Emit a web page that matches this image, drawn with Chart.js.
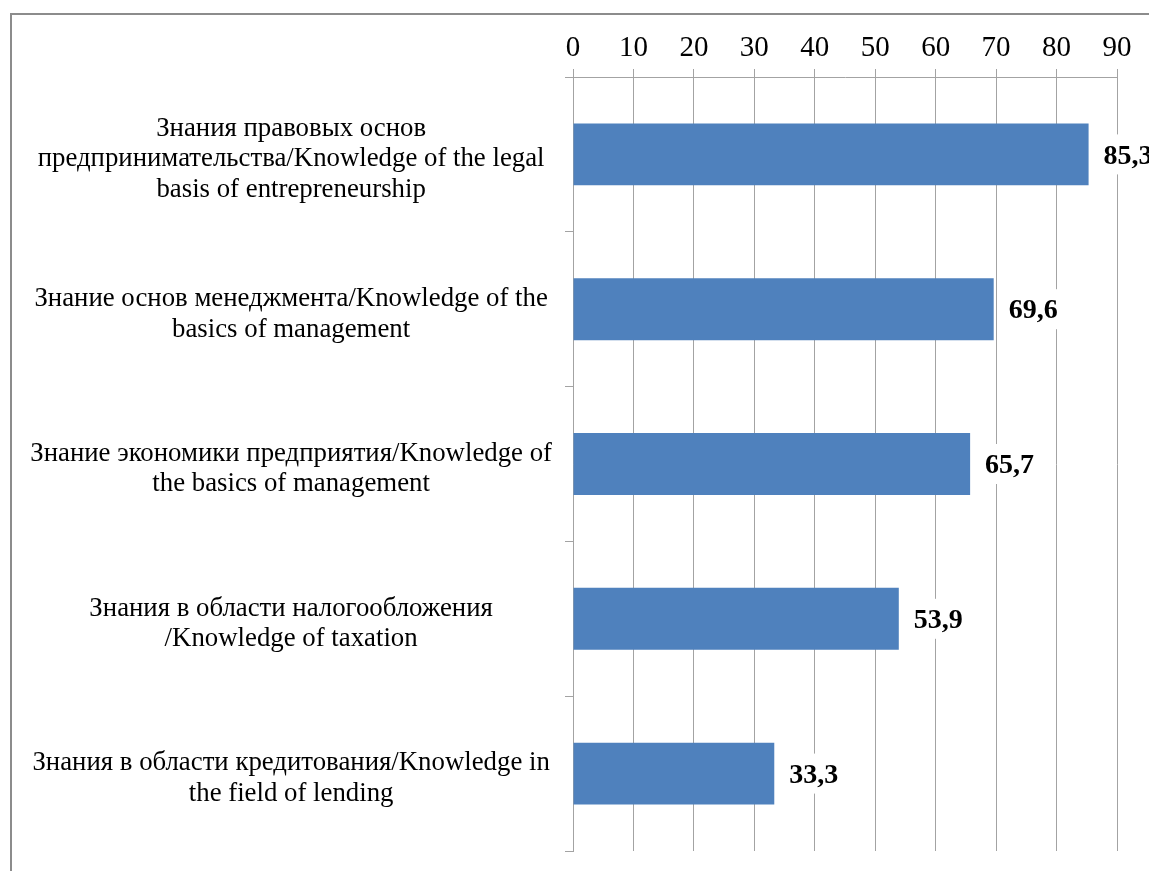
<!DOCTYPE html>
<html>
<head>
<meta charset="utf-8">
<script src="https://cdn.jsdelivr.net/npm/chart.js@4/dist/chart.umd.min.js"></script>
<style>
  html, body { margin: 0; padding: 0; background: #fff; overflow: hidden; }
  #wrap { position: relative; width: 1149px; height: 871px; overflow: hidden; }
  #frame { position: absolute; left: 10px; top: 13px; width: 1300px; height: 1000px; border: 2px solid #8c8c8c; }
  #chart { position: absolute; left: 0; top: 0; }
</style>
</head>
<body>
<div id="wrap">
  <div id="frame"></div>
  <canvas id="chart" width="1149" height="871"></canvas>
</div>
<script>
// --- data ---
const categories = [
    ['Знания правовых основ', 'предпринимательства/Knowledge of the legal', 'basis of entrepreneurship'],
    ['Знание основ менеджмента/Knowledge of the', 'basics of management'],
    ['Знание экономики предприятия/Knowledge of', 'the basics of management'],
    ['Знания в области налогообложения', '/Knowledge of taxation'],
    ['Знания в области кредитования/Knowledge in', 'the field of lending']
];
const values = [85.3, 69.6, 65.7, 53.9, 33.3];
const tickValues = [0, 10, 20, 30, 40, 50, 60, 70, 80, 90];

const gridColor = '#a3a3a3';
const serif = '"Liberation Serif", "Times New Roman", serif';

// подписи значений справа от столбцов (белая подложка перекрывает сетку)
const valueLabels = {
    id: 'valueLabels',
    afterDatasetsDraw(chart) {
        const ctx = chart.ctx;
        const meta = chart.getDatasetMeta(0);
        ctx.save();
        ctx.font = 'bold 28px ' + serif;
        ctx.textBaseline = 'middle';
        ctx.textAlign = 'left';
        meta.data.forEach((bar, i) => {
            const txt = values[i].toFixed(1).replace('.', ',');
            const w = ctx.measureText(txt).width;
            const x = bar.x + 15;
            ctx.fillStyle = '#fff';
            ctx.fillRect(x - 6, bar.y - 20, w + 12, 40);
            ctx.fillStyle = '#000';
            ctx.fillText(txt, x, bar.y + 2);
        });
        ctx.restore();
    }
};

new Chart(document.getElementById('chart'), {
    type: 'bar',
    data: {
        labels: categories,
        datasets: [{
            data: values,
            backgroundColor: '#4f81bd',
            borderWidth: 0,
            categoryPercentage: 1,
            barPercentage: 0.4
        }]
    },
    options: {
        indexAxis: 'y',
        responsive: false,
        animation: false,
        devicePixelRatio: 1,
        layout: { padding: { left: 0, top: 0, right: 32, bottom: 20 } },
        plugins: { legend: { display: false }, tooltip: { enabled: false } },
        scales: {
            x: {
                position: 'top',
                min: 0,
                max: 90,
                afterBuildTicks: (scale) => { scale.ticks = tickValues.map(v => ({ value: v })); },
                afterFit: (scale) => {
                    scale.height = 77;
                    scale.paddingLeft = 0;
                    scale.paddingRight = 0;
                },
                ticks: {
                    color: '#000',
                    padding: 3,
                    font: { family: serif, size: 29 }
                },
                grid: { color: gridColor, lineWidth: 1, tickLength: 8 },
                border: { color: gridColor, width: 1 }
            },
            y: {
                afterFit: (scale) => {
                    scale.width = 573;
                    scale.paddingTop = 0;
                    scale.paddingBottom = 0;
                },
                ticks: {
                    color: '#000',
                    padding: 13,
                    labelOffset: 5,
                    crossAlign: 'center',
                    autoSkip: false,
                    font: { family: serif, size: 26.8, lineHeight: 1.14 }
                },
                grid: { color: gridColor, lineWidth: 1, tickLength: 8, drawOnChartArea: false, offset: true },
                border: { color: gridColor, width: 1 }
            }
        }
    },
    plugins: [valueLabels]
});
</script>
</body>
</html>
